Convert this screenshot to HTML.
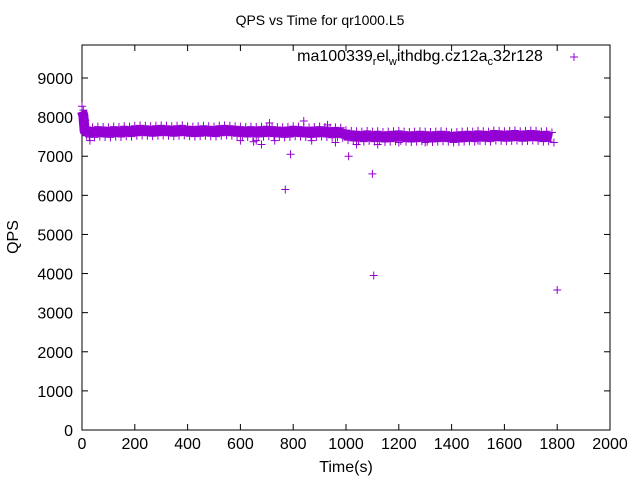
<!DOCTYPE html>
<html><head><meta charset="utf-8"><style>
body{margin:0;background:#fff}
svg text{font-family:"Liberation Sans",sans-serif;font-size:16px;fill:#000}
</style></head><body>
<svg width="640" height="480">
<g id="plot"></g>
<text x="320" y="25" text-anchor="middle" style="font-size:14px">QPS vs Time for qr1000.L5</text>
<text x="420" y="61" text-anchor="middle" style="font-size:16px">ma100339<tspan style="font-size:11px" dy="4">r</tspan><tspan dy="-4">el</tspan><tspan style="font-size:11px" dy="4">w</tspan><tspan dy="-4">ithdbg.cz12a</tspan><tspan style="font-size:11px" dy="4">c</tspan><tspan dy="-4">32r128</tspan></text>
<text x="346" y="472" text-anchor="middle">Time(s)</text>
<text transform="translate(18,237) rotate(-90)" text-anchor="middle">QPS</text>
</svg>
<script>
const xTicks=[0,200,400,600,800,1000,1200,1400,1600,1800,2000];
const yTicks=[0,1000,2000,3000,4000,5000,6000,7000,8000,9000];
const bandTimes=[0,5,10,20,40,60,80,100,120,140,160,180,200,220,240,260,280,300,320,340,360,380,400,420,440,460,480,500,520,540,560,580,600,620,640,660,680,700,720,740,760,780,800,820,840,860,880,900,920,940,960,980,1000,1020,1040,1060,1080,1100,1120,1140,1160,1180,1200,1220,1240,1260,1280,1300,1320,1340,1360,1380,1400,1420,1440,1460,1480,1500,1520,1540,1560,1580,1600,1620,1640,1660,1680,1700,1720,1740,1760,1780,1800];
const bandQps=[8150,8050,7650,7620,7610,7630,7620,7610,7630,7620,7640,7630,7650,7660,7650,7640,7650,7660,7650,7640,7650,7660,7640,7630,7640,7650,7640,7630,7650,7660,7650,7640,7630,7620,7630,7620,7630,7640,7630,7620,7610,7620,7640,7630,7620,7610,7620,7630,7620,7600,7610,7600,7540,7520,7510,7500,7520,7500,7510,7490,7500,7510,7520,7500,7490,7500,7510,7500,7490,7500,7510,7500,7480,7490,7500,7510,7500,7520,7510,7500,7530,7520,7510,7520,7530,7510,7520,7530,7520,7500,7510,7480];
const outT=[30,600,650,660,680,710,730,770,790,840,870,930,960,1010,1040,1100,1105,1120,1200,1300,1500,1800];
const outQ=[7400,7400,7370,7400,7300,7850,7400,6150,7050,7900,7400,7800,7350,7000,7300,6550,3950,7300,7350,7350,7400,3580];
const X0=82,X1=610,Y0=430,Y1=78;
const sx=t=>X0+t/2000*(X1-X0);
const sy=q=>Y0-q/9000*(Y0-Y1);
const ns="http://www.w3.org/2000/svg";
const g=document.getElementById('plot');
function el(tag,a){const e=document.createElementNS(ns,tag);for(const k in a)e.setAttribute(k,a[k]);g.appendChild(e);return e;}
const frame=el('rect',{x:X0,y:45,width:X1-X0,height:Y0-45,fill:'none',stroke:'#000','stroke-width':1});


xTicks.forEach(t=>{const x=sx(t);
 el('line',{x1:x,y1:Y0,x2:x,y2:Y0-6,stroke:'#000'});el('line',{x1:x,y1:45,x2:x,y2:51,stroke:'#000'});
 const tx=el('text',{x:x,y:Y0+19,'text-anchor':'middle'});tx.textContent=t;
 
 });
yTicks.forEach(q=>{const y=sy(q);
 el('line',{x1:X0,y1:y,x2:X0+6,y2:y,stroke:'#000'});el('line',{x1:X1,y1:y,x2:X1-6,y2:y,stroke:'#000'});
 const tx=el('text',{x:X0-9,y:y+6,'text-anchor':'end'});tx.textContent=q;
 
 });
const col='#9400d3';
const band=el('polyline',{points:bandTimes.map((t,i)=>sx(t)+','+sy(bandQps[i])).join(' '),fill:'none',stroke:col,'stroke-width':10,'stroke-linejoin':'round'});


function plus(x,y,name){const p=el('path',{d:`M${x-4},${y}h8M${x},${y-4}v8`,stroke:col,'stroke-width':1,fill:'none'});
 
 }
bandTimes.forEach((t,i)=>{plus(sx(t),sy(bandQps[i])-5,'qps-point');plus(sx(t)+2,sy(bandQps[i])+5,'qps-point');});
outT.forEach((t,i)=>plus(sx(t),sy(outQ[i]),'qps-outlier'));
plus(574,57,'legend-marker');
</script>
</body></html>
